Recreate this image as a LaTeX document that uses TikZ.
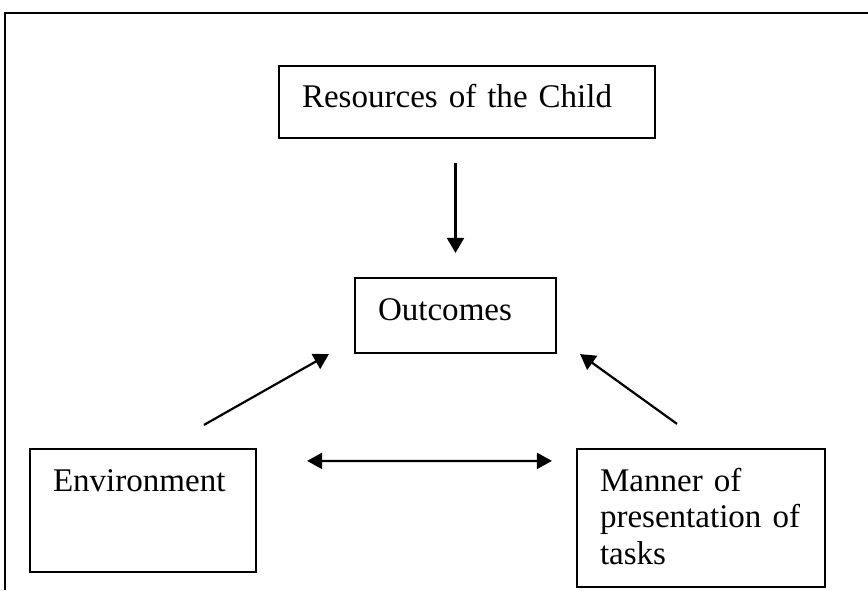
\documentclass[tikz,border=0pt]{standalone}
\usepackage{fontspec}
\setmainfont{Liberation Serif}
\usepackage{tikz}
\usetikzlibrary{positioning, arrows.meta, calc}
\newcommand{\boxfont}{\fontsize{18.8}{21}\selectfont}

\begin{document}
\begin{tikzpicture}[
      box/.style={draw, line width=1.25pt, align=left, font=\boxfont,
        inner xsep=0.46cm, inner ysep=0pt, text height=0.84cm},
      arr/.style={-{Triangle[length=0.3cm, width=0.34cm]}, line width=1.25pt},
      twoarr/.style={{Triangle[length=0.3cm, width=0.32cm]}-{Triangle[length=0.3cm, width=0.32cm]}, line width=1.25pt},
      frame/.style={line width=1.25pt}
    ]
    \useasboundingbox (0,0) rectangle (17.36,11.80);
    \draw[frame] (0.10,0) -- (0.10,11.54) -- (17.36,11.54);

    \node[box, text width=6.60cm, text depth=0.60cm] (res) at (9.34,9.76) {Resources of the Child};
    \node[box, text width=3.10cm, text depth=0.66cm] (out) at (9.11,5.49) {Outcomes};
    \node[box, text width=3.60cm, text depth=1.62cm] (env) at (2.86,1.59) {Environment};
    \node[box, text width=4.04cm, text depth=1.92cm] (man) at (14.02,1.44) {Manner of\\presentation of\\tasks};

    \draw[arr, shorten <=0.48cm, shorten >=0.48cm] (out.north |- res.south) -- (out.north);
    \draw[arr] ([xshift=1.22cm, yshift=0.46cm]env.north) -- ([xshift=-0.50cm]out.south west);
    \draw[arr] ([xshift=-0.48cm, yshift=0.48cm]man.north) -- ([xshift=0.46cm]out.south east);
    \draw[twoarr, shorten <=1.00cm, shorten >=0.48cm]
      ([yshift=-0.26cm]env.north east) -- ([yshift=-0.26cm]man.north west);
  \end{tikzpicture}
\end{document}
